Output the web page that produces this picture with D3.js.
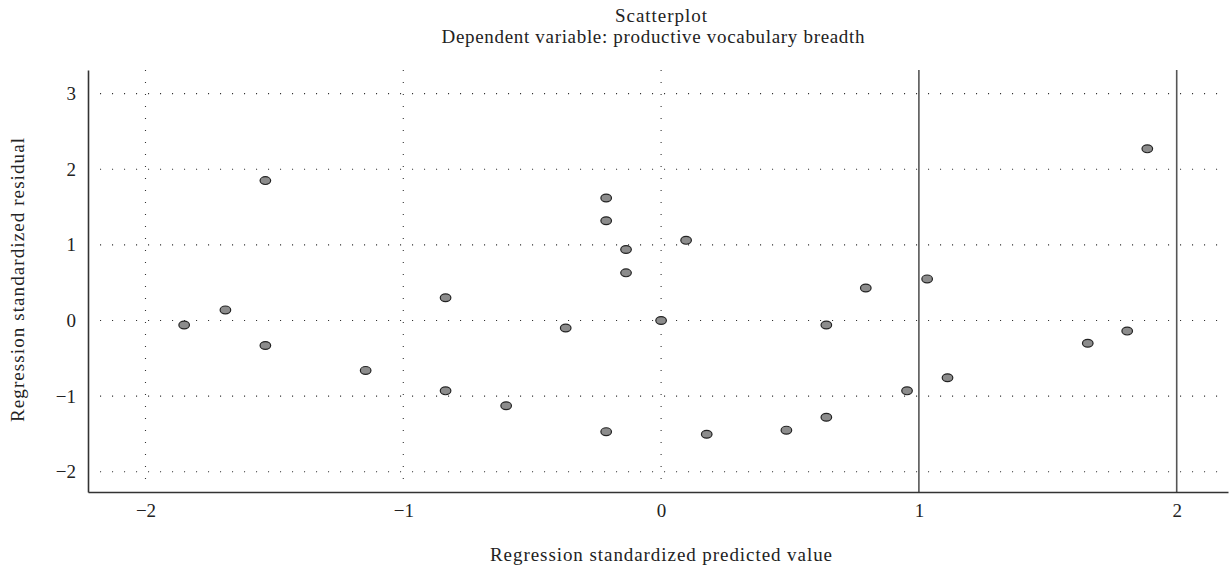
<!DOCTYPE html>
<html>
<head>
<meta charset="utf-8">
<script src="https://cdn.jsdelivr.net/npm/d3@7"></script>
<style>
  body { margin: 0; background: #fff; }
  text { font-family: "Liberation Serif", "DejaVu Serif", serif; fill: #222; }
</style>
</head>
<body>
<div id="chart"></div>
<script>
// predicted values (x) and residuals (y)
var predicted = [-1.85, -1.69, -1.535, -1.535, -1.146, -0.836, -0.836, -0.601, -0.37,
  -0.213, -0.213, -0.136, -0.136, 0.097, 0, -0.213, 0.177, 0.486, 0.641, 0.641,
  0.794, 0.954, 1.032, 1.111, 1.655, 1.808, 1.886];
var residual = [-0.06, 0.14, 1.85, -0.33, -0.66, 0.30, -0.93, -1.127, -0.10,
  1.62, 1.32, 0.94, 0.63, 1.06, 0, -1.47, -1.505, -1.45, -1.28, -0.06,
  0.43, -0.93, 0.55, -0.757, -0.30, -0.14, 2.27];
var xTicks = [-2, -1, 0, 1, 2];
var yTicks = [-2, -1, 0, 1, 2, 3];
var xGrid = [-2, -1, 0];
var refLines = [1, 2];

var width = 1230, height = 569;
var svg = d3.select("#chart").append("svg")
  .attr("width", width)
  .attr("height", height);

var x = d3.scaleLinear().domain([-2.223, 2.199]).range([88, 1228]);
var y = d3.scaleLinear().domain([-2.268, 3.313]).range([492, 70]);

// dotted grid
svg.selectAll(".hgrid")
  .data(yTicks)
  .enter()
  .append("line")
  .attr("class", "hgrid")
  .attr("x1", x.range()[0] + 12)
  .attr("x2", x.range()[1] - 8)
  .attr("y1", function (d) { return y(d); })
  .attr("y2", function (d) { return y(d); })
  .attr("stroke", "#333")
  .attr("stroke-width", 1.1)
  .attr("stroke-dasharray", "1.1,10.9");

svg.selectAll(".vgrid")
  .data(xGrid)
  .enter()
  .append("line")
  .attr("class", "vgrid")
  .attr("x1", function (d) { return x(d); })
  .attr("x2", function (d) { return x(d); })
  .attr("y1", y.range()[1])
  .attr("y2", y.range()[0] - 10)
  .attr("stroke", "#333")
  .attr("stroke-width", 1.1)
  .attr("stroke-dasharray", "1.1,10.9");

// reference lines
svg.selectAll(".ref")
  .data(refLines)
  .enter()
  .append("line")
  .attr("class", "ref")
  .attr("x1", function (d) { return x(d); })
  .attr("x2", function (d) { return x(d); })
  .attr("y1", y.range()[1])
  .attr("y2", y.range()[0])
  .attr("stroke", "#555")
  .attr("stroke-width", 1.6);

// axes
var minus = function (d) { return d < 0 ? "\u2212" + Math.abs(d) : d; };
var xAxis = d3.axisBottom(x).tickValues(xTicks).tickSize(0).tickPadding(11.5).tickFormat(minus);
var yAxis = d3.axisLeft(y).tickValues(yTicks).tickSize(0).tickPadding(12).tickFormat(minus);

var gx = svg.append("g")
  .attr("transform", "translate(0," + y.range()[0] + ")")
  .call(xAxis);
var gy = svg.append("g")
  .attr("transform", "translate(" + x.range()[0] + ",0)")
  .call(yAxis);

[gx, gy].forEach(function (g) {
  g.select(".domain").attr("stroke", "#333").attr("stroke-width", 1.6);
  g.selectAll("text")
    .attr("font-family", "Liberation Serif, serif")
    .attr("font-size", 19)
    .attr("fill", "#222");
});

// points
svg.selectAll(".pt")
  .data(predicted)
  .enter()
  .append("ellipse")
  .attr("class", "pt")
  .attr("cx", function (d) { return x(d); })
  .attr("cy", function (d, i) { return y(residual[i]); })
  .attr("rx", 5.3)
  .attr("ry", 3.9)
  .attr("fill", "#8c8c8c")
  .attr("stroke", "#222")
  .attr("stroke-width", 1.2);

// titles
svg.append("text")
  .attr("x", 661)
  .attr("y", 22)
  .attr("text-anchor", "middle")
  .attr("font-size", 19)
  .attr("textLength", 92)
  .text("Scatterplot");
svg.append("text")
  .attr("x", 653)
  .attr("y", 43)
  .attr("text-anchor", "middle")
  .attr("font-size", 19)
  .attr("textLength", 423)
  .text("Dependent variable: productive vocabulary breadth");

svg.append("text")
  .attr("x", 661)
  .attr("y", 561)
  .attr("text-anchor", "middle")
  .attr("font-size", 19)
  .attr("textLength", 342)
  .text("Regression standardized predicted value");

svg.append("text")
  .attr("transform", "translate(24,280) rotate(-90)")
  .attr("text-anchor", "middle")
  .attr("font-size", 19)
  .attr("textLength", 284)
  .text("Regression standardized residual");
</script>
</body>
</html>
